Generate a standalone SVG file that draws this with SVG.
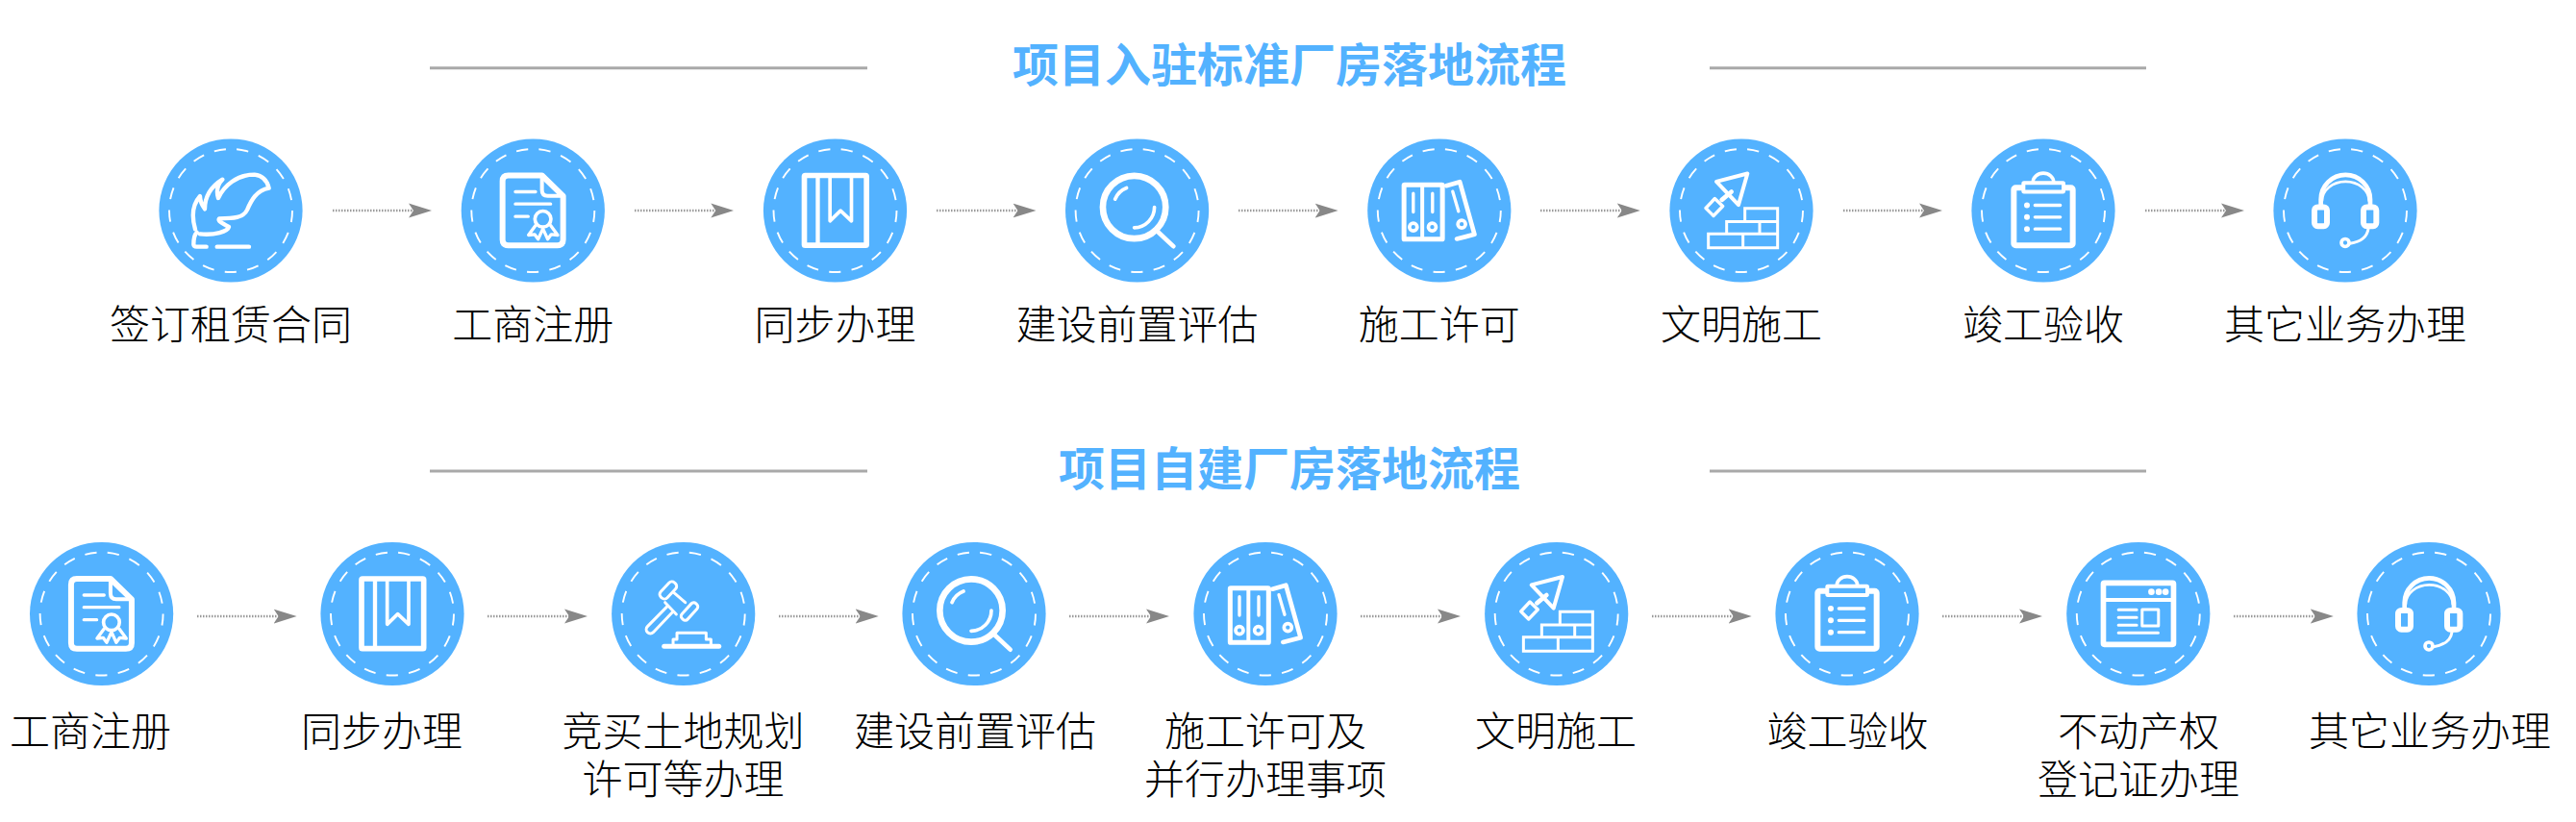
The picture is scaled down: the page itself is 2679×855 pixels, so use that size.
<svg xmlns="http://www.w3.org/2000/svg" xmlns:xlink="http://www.w3.org/1999/xlink" width="2679" height="855" viewBox="0 0 2679 855">
<style>
.title{font-family:"Noto Sans CJK SC","Noto Sans",sans-serif;font-weight:700;font-size:48px;fill:#53b2ff;text-anchor:middle}
.label{font-family:"Noto Sans CJK SC","Noto Sans",sans-serif;font-weight:200;font-size:42px;fill:#000;text-anchor:middle}
.rule{stroke:#a9a9a9;stroke-width:3;fill:none}
.disc{fill:#53b2ff}
.ring{fill:none;stroke:#fff;stroke-width:1.9;stroke-dasharray:12.3 11.354;stroke-dashoffset:.2}
.arrow{fill:none;stroke:#999;stroke-width:2.4;stroke-dasharray:1.5 1.5;marker-end:url(#ah)}
.ic{fill:none;stroke:#fff;stroke-linecap:round;stroke-linejoin:round}
.w{fill:#fff;stroke:none}
</style>
<defs>
<marker id="ah" markerUnits="userSpaceOnUse" markerWidth="24" markerHeight="16" viewBox="0 0 24 16" refX="5" refY="8" orient="auto"><path d="M0 .5L24 8L0 15.5L5 8Z" fill="#888"/></marker>
<g id="disc"><circle class="disc" r="74.6"/><circle class="ring" r="64"/></g>
<g id="i-quill" class="ic" transform="scale(.3333) translate(-271 -267)" stroke-width="13">
<path d="M160 325C150 290 150 250 175 222Q176 245 190 262C190 230 205 195 245 170C225 190 228 215 232 228C250 190 290 155 345 155C370 158 385 175 390 197C350 205 335 235 322 265C310 290 280 292 235 292C230 298 240 305 265 318C262 332 220 345 175 340"/>
<path d="M165 335C155 345 155 360 155 372Q155 380 165 380H195M228 380H328"/>
</g>
<g id="i-doc" class="ic" transform="scale(.3333) translate(-227 -235.5)">
<path stroke-width="18" d="M255 126H150Q132 126 132 144V326Q132 344 150 344H303Q321 344 321 326V190Z"/>
<path stroke-width="12" d="M255 130V172Q255 190 273 190H321"/>
<path stroke-width="10" d="M172 177H235M172 215H282M172 254H212"/>
<circle stroke-width="11" cx="258" cy="262" r="25"/>
<path stroke-width="10" d="M235 282L213 312L232 310L243 325L258 292L273 325L284 310L304 312L282 282"/>
</g>
<g id="i-book" class="ic" transform="scale(.3333) translate(-1134 -235.5)">
<rect stroke-width="17" x="1038" y="126" width="194" height="218" rx="3"/>
<path stroke-width="13" d="M1080 126V344" stroke-linecap="butt"/>
<path stroke-width="11" d="M1118 126V268L1151 236L1185 268V126"/>
</g>
<g id="i-gavel" class="ic" transform="scale(.3333) translate(-272 -235.5)" stroke-width="9">
<rect x="-31" y="-14" width="62" height="28" rx="12" transform="translate(224.5 162) rotate(-47)"/>
<rect x="-32" y="-12" width="64" height="24" rx="10" transform="translate(291 228) rotate(-48)"/>
<path d="M243 170L278 200M215 200L250 237M222 212L160 275A12 12 0 0 0 178 293L238 230"/>
<path stroke-width="15" d="M212 337H383"/>
<path d="M240 330V315H252V295H343V315H358V330"/>
</g>
<g id="i-mag" class="ic" transform="scale(.3333) translate(-219 -235.5)">
<circle stroke-width="20" cx="210" cy="225" r="98"/>
<path stroke-width="14" d="M285 303L332 347"/>
<path stroke-width="11" d="M150 200A64 64 0 0 1 186 165M273 225A64 64 0 0 1 210 289"/>
</g>
<g id="i-folders" class="ic" transform="scale(.3333) translate(-1128 -235.5)">
<path stroke-width="14" d="M1150 158L1192 146L1238 310L1183 324"/>
<rect stroke-width="15" x="1018" y="155" width="120" height="170" rx="2"/>
<path stroke-width="12" d="M1075 155V325" stroke-linecap="butt"/>
<path stroke-width="10" d="M1047 182V240M1107 182V240M1170 176L1188 238"/>
<circle stroke-width="11" cx="1047" cy="287" r="12"/>
<circle stroke-width="11" cx="1106" cy="287" r="12"/>
<circle stroke-width="11" cx="1198" cy="278" r="12"/>
</g>
<g id="i-trowel" class="ic" transform="scale(.3333) translate(-221 -235.5)">
<path stroke-width="12" d="M143 145L240 120L212 218Z"/>
<path stroke-width="10" d="M110 228L138 198L163 222L134 252Z"/>
<path stroke-width="14" d="M160 202L190 177"/>
<path stroke-width="9" stroke-linecap="butt" stroke-linejoin="miter" d="M232 268V229H334V352H118V308H334M175 308V270H334M278 270V308M226 308V352"/>
</g>
<g id="i-clip" class="ic" transform="scale(.3333) translate(-1128 -235.5)">
<rect stroke-width="18" x="1036" y="164" width="184" height="180" rx="6"/>
<path stroke-width="11" d="M1096 146A32 27 0 0 1 1160 146"/>
<rect stroke-width="12" x="1066" y="149" width="125" height="28" rx="2" fill="#53b2ff"/>
<path stroke-width="10" d="M1102 219H1181M1102 256H1181M1102 293H1181"/>
<circle class="w" cx="1077" cy="219" r="9"/><circle class="w" cx="1077" cy="256" r="9"/><circle class="w" cx="1077" cy="293" r="9"/>
</g>
<g id="i-browser" class="ic" transform="scale(.3333) translate(-221 -235.5)">
<rect stroke-width="17" x="112" y="139" width="219" height="192" rx="3"/>
<path stroke-width="12" d="M112 192H331" stroke-linecap="butt"/>
<circle class="w" cx="262" cy="167" r="10"/><circle class="w" cx="285" cy="167" r="10"/><circle class="w" cx="306" cy="167" r="10"/>
<path stroke-width="9" d="M159 223H216M159 247H216M159 271H216M159 295H283"/>
<rect stroke-width="9" x="233" y="222" width="51" height="51"/>
</g>
<g id="i-head" class="ic" transform="scale(.3333) translate(-1128 -235.5)">
<path stroke-width="14" d="M1052 218V201A77 77 0 0 1 1206 201V218"/>
<path stroke-width="8" d="M1056 205A73 60 0 0 1 1202 205"/>
<rect stroke-width="18" x="1032" y="225" width="39" height="59" rx="10"/>
<rect stroke-width="18" x="1185" y="225" width="40" height="59" rx="10"/>
<path stroke-width="9" d="M1200 292Q1195 330 1143 338"/>
<circle stroke-width="11" cx="1128" cy="336" r="12"/>
</g>
</defs>
<g id="titles">
<text class="title" x="1341" y="85">项目入驻标准厂房落地流程</text>
<text class="title" x="1341" y="505">项目自建厂房落地流程</text>
</g>
<g id="rules">
<line class="rule" x1="447" y1="70.7" x2="902" y2="70.7"/>
<line class="rule" x1="1778" y1="70.7" x2="2232" y2="70.7"/>
<line class="rule" x1="447" y1="490" x2="902" y2="490"/>
<line class="rule" x1="1778" y1="490" x2="2232" y2="490"/>
</g>
<g id="connectors">
<line class="arrow" x1="346" y1="219" x2="430" y2="219"/>
<line class="arrow" x1="660" y1="219" x2="744.3" y2="219"/>
<line class="arrow" x1="974" y1="219" x2="1058.5" y2="219"/>
<line class="arrow" x1="1288" y1="219" x2="1372.6" y2="219"/>
<line class="arrow" x1="1602" y1="219" x2="1686.8" y2="219"/>
<line class="arrow" x1="1917" y1="219" x2="2001" y2="219"/>
<line class="arrow" x1="2231" y1="219" x2="2315" y2="219"/>
<line class="arrow" x1="205" y1="641" x2="289.6" y2="641"/>
<line class="arrow" x1="507" y1="641" x2="592" y2="641"/>
<line class="arrow" x1="810" y1="641" x2="894.7" y2="641"/>
<line class="arrow" x1="1112" y1="641" x2="1197" y2="641"/>
<line class="arrow" x1="1415" y1="641" x2="1500" y2="641"/>
<line class="arrow" x1="1718" y1="641" x2="1802.7" y2="641"/>
<line class="arrow" x1="2020" y1="641" x2="2105" y2="641"/>
<line class="arrow" x1="2323" y1="641" x2="2407.8" y2="641"/>
</g>
<g id="a1"><use href="#disc" x="240" y="219"/><use href="#i-quill" x="240" y="219"/><text class="label" x="240" y="352.5">签订租赁合同</text></g>
<g id="a2"><use href="#disc" x="554.3" y="219"/><use href="#i-doc" x="554.3" y="219"/><text class="label" x="554.3" y="352.5">工商注册</text></g>
<g id="a3"><use href="#disc" x="868.5" y="219"/><use href="#i-book" x="868.5" y="219"/><text class="label" x="868.5" y="352.5">同步办理</text></g>
<g id="a4"><use href="#disc" x="1182.6" y="219"/><use href="#i-mag" x="1182.6" y="219"/><text class="label" x="1182.6" y="352.5">建设前置评估</text></g>
<g id="a5"><use href="#disc" x="1496.8" y="219"/><use href="#i-folders" x="1496.8" y="219"/><text class="label" x="1496.8" y="352.5">施工许可</text></g>
<g id="a6"><use href="#disc" x="1811" y="219"/><use href="#i-trowel" x="1811" y="219"/><text class="label" x="1811" y="352.5">文明施工</text></g>
<g id="a7"><use href="#disc" x="2125" y="219"/><use href="#i-clip" x="2125" y="219"/><text class="label" x="2125" y="352.5">竣工验收</text></g>
<g id="a8"><use href="#disc" x="2439" y="219"/><use href="#i-head" x="2439" y="219"/><text class="label" x="2439" y="352.5">其它业务办理</text></g>
<g id="b1"><use href="#disc" x="105.6" y="638.5"/><use href="#i-doc" x="105.6" y="638.5"/><text class="label" x="94" y="775.5">工商注册</text></g>
<g id="b2"><use href="#disc" x="408" y="638.5"/><use href="#i-book" x="408" y="638.5"/><text class="label" x="397" y="775.5">同步办理</text></g>
<g id="b3"><use href="#disc" x="710.7" y="638.5"/><use href="#i-gavel" x="710.7" y="638.5"/><text class="label" y="775.5"><tspan x="710.5">竞买土地规划</tspan><tspan x="710.5" dy="50">许可等办理</tspan></text></g>
<g id="b4"><use href="#disc" x="1013" y="638.5"/><use href="#i-mag" x="1013" y="638.5"/><text class="label" x="1014" y="775.5">建设前置评估</text></g>
<g id="b5"><use href="#disc" x="1316" y="638.5"/><use href="#i-folders" x="1316" y="638.5"/><text class="label" y="775.5"><tspan x="1316">施工许可及</tspan><tspan x="1316" dy="50">并行办理事项</tspan></text></g>
<g id="b6"><use href="#disc" x="1618.7" y="638.5"/><use href="#i-trowel" x="1618.7" y="638.5"/><text class="label" x="1618" y="775.5">文明施工</text></g>
<g id="b7"><use href="#disc" x="1921" y="638.5"/><use href="#i-clip" x="1921" y="638.5"/><text class="label" x="1921.4" y="775.5">竣工验收</text></g>
<g id="b8"><use href="#disc" x="2223.8" y="638.5"/><use href="#i-browser" x="2223.8" y="638.5"/><text class="label" y="775.5"><tspan x="2224">不动产权</tspan><tspan x="2224" dy="50">登记证办理</tspan></text></g>
<g id="b9"><use href="#disc" x="2526" y="638.5"/><use href="#i-head" x="2526" y="638.5"/><text class="label" x="2527" y="775.5">其它业务办理</text></g>
</svg>
